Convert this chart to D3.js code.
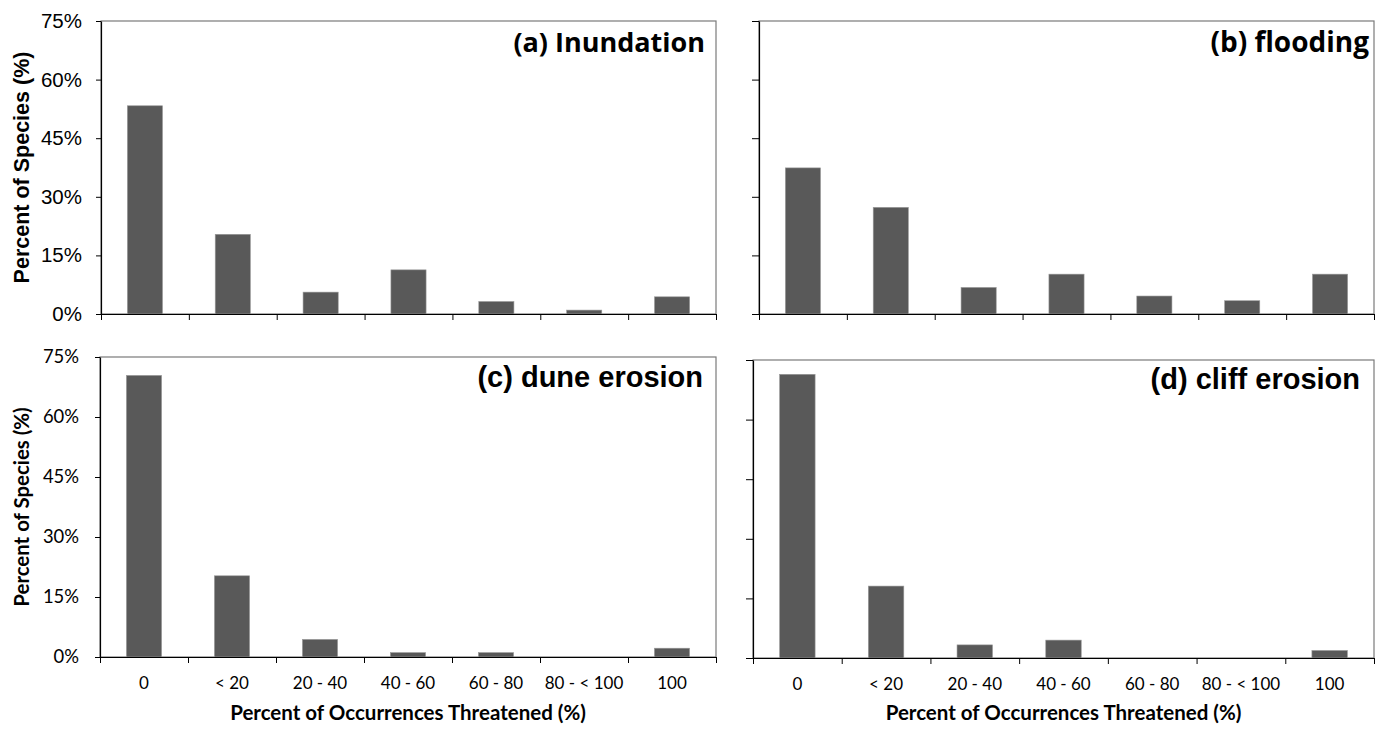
<!DOCTYPE html>
<html>
<head>
<meta charset="utf-8">
<script src="https://cdn.jsdelivr.net/npm/d3@7"></script>
<style>
  body { margin: 0; background: #fff; }
  svg { display: block; }
</style>
</head>
<body>
<svg id="chart" width="1384" height="731"></svg>
<script>
// categories on the x axis (percent of occurrences threatened)
const categories = ["0", "< 20", "20 - 40", "40 - 60", "60 - 80", "80 - < 100", "100"];

// percent of species per category
const inundation = [53.3, 20.4, 5.6, 11.3, 3.2, 1.0, 4.4];
const flooding = [37.4, 27.3, 6.8, 10.2, 4.6, 3.4, 10.2];
const duneErosion = [70.4, 20.3, 4.4, 1.1, 1.1, 0, 2.2];
const cliffErosion = [71.4, 18.1, 3.3, 4.5, 0, 0, 1.9];

const yTicks = [0, 15, 30, 45, 60, 75];
const titles = ["(a) Inundation", "(b) flooding", "(c) dune erosion", "(d) cliff erosion"];

const YMAX = 75;
const BAR = "#595959";

const panels = [
  { values: inundation, title: titles[0], box: [101, 716, 21, 314], left: true, bottom: false,
    tickFont: "'Liberation Sans', Arial", tickSize: 20.5, titleFont: "'Open Sans'", titleSize: 27,
    titleX: 705, titleY: 52, yTitleFont: "'Liberation Sans', Arial", ySize: 21.5, tickPad: 14 },
  { values: flooding, title: titles[1], box: [759, 1374, 21, 314], left: false, bottom: false,
    titleFont: "'Open Sans'", titleSize: 28, titleX: 1369, titleY: 52 },
  { values: duneErosion, title: titles[2], box: [100, 716, 357, 657], left: true, bottom: true,
    tickFont: "Lato", tickSize: 18.4, titleFont: "'Liberation Sans', Arial", titleSize: 29,
    titleX: 703, titleY: 387, yTitleFont: "Lato", ySize: 20.4, tickPad: 16 },
  { values: cliffErosion, title: titles[3], box: [753, 1374, 360, 658], left: false, bottom: true,
    titleFont: "'Liberation Sans', Arial", titleSize: 29, titleX: 1360, titleY: 389 }
];

const svg = d3.select("#chart");

panels.forEach(p => {
  const [x0, x1, y0, y1] = p.box;

  const x = d3.scaleBand().domain(categories).range([x0, x1]).padding(0);
  const xEdge = d3.scaleLinear().domain([0, categories.length]).range([x0, x1]);
  const y = d3.scaleLinear().domain([0, YMAX]).range([y1, y0]);

  const g = svg.append("g");

  // plot frame, top and right edges grey
  g.append("rect")
    .attr("x", x0).attr("y", y0)
    .attr("width", x1 - x0).attr("height", y1 - y0)
    .attr("fill", "none")
    .attr("stroke", "#7a7a7a")
    .attr("stroke-width", 1.2);

  // bars
  const bw = x.bandwidth() * 0.4;
  g.selectAll("rect.bar")
    .data(p.values.map((v, i) => ({ c: categories[i], v: v })))
    .enter()
    .append("rect")
    .attr("class", "bar")
    .attr("x", d => x(d.c) + (x.bandwidth() - bw) / 2)
    .attr("y", d => y(d.v))
    .attr("width", bw)
    .attr("height", d => y(0) - y(d.v))
    .attr("fill", BAR)
    .attr("stroke", "#9a9a9a")
    .attr("stroke-width", 0.6);

  // y axis
  const yAxis = d3.axisLeft(y)
    .tickValues(yTicks)
    .tickSizeInner(p.left ? 5 : 7)
    .tickSizeOuter(0)
    .tickPadding(p.tickPad || 10)
    .tickFormat(p.left ? (d => d + "%") : "");
  const ya = g.append("g").attr("transform", `translate(${x0},0)`).call(yAxis);
  ya.select(".domain").attr("stroke", "#000").attr("stroke-width", 1.2);
  ya.selectAll(".tick line").attr("stroke", "#000");
  ya.selectAll("text")
    .attr("fill", "#000")
    .style("font-family", p.tickFont || "sans-serif")
    .style("font-size", (p.tickSize || 18) + "px");

  // x axis ticks sit on the category boundaries
  const edgeAxis = d3.axisBottom(xEdge)
    .tickValues(d3.range(categories.length + 1))
    .tickSizeInner(6)
    .tickSizeOuter(0)
    .tickFormat("");
  const xa = g.append("g").attr("transform", `translate(0,${y1})`).call(edgeAxis);
  xa.select(".domain").attr("stroke", "#000").attr("stroke-width", 1.2);
  xa.selectAll(".tick line").attr("stroke", "#000");

  // category labels, bottom row only
  if (p.bottom) {
    const labAxis = d3.axisBottom(x).tickSize(0).tickPadding(20);
    const xl = g.append("g").attr("transform", `translate(0,${y1})`).call(labAxis);
    xl.select(".domain").remove();
    xl.selectAll("text")
      .attr("fill", "#000")
      .style("font-family", "Lato")
      .style("font-size", "17px");

    g.append("text")
      .attr("x", (x0 + x1) / 2)
      .attr("y", 720)
      .attr("text-anchor", "middle")
      .style("font-family", "Lato")
      .style("font-weight", 700)
      .style("font-size", "20.5px")
      .text("Percent of Occurrences Threatened (%)");
  }

  // y axis title
  if (p.left) {
    g.append("text")
      .attr("transform", `translate(28.5,${(y0 + y1) / 2}) rotate(-90)`)
      .attr("text-anchor", "middle")
      .style("font-family", p.yTitleFont)
      .style("font-weight", 700)
      .style("font-size", p.ySize + "px")
      .text("Percent of Species (%)");
  }

  // panel title
  g.append("text")
    .attr("x", p.titleX)
    .attr("y", p.titleY)
    .attr("text-anchor", "end")
    .style("font-family", p.titleFont)
    .style("font-weight", 700)
    .style("font-size", p.titleSize + "px")
    .text(p.title);
});
</script>
</body>
</html>
